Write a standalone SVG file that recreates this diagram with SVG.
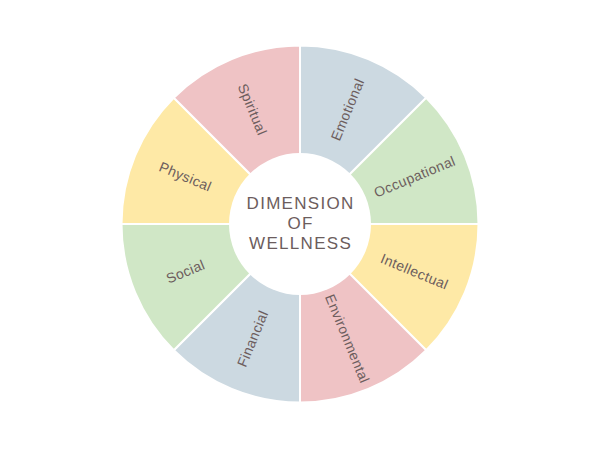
<svg xmlns="http://www.w3.org/2000/svg" width="600" height="449" viewBox="0 0 600 449">
<style>
.seg{stroke:#ffffff;stroke-width:2;stroke-linejoin:round}
.blue{fill:#ccd9e1}.green{fill:#d0e7c6}.yellow{fill:#fee9a6}.pink{fill:#efc3c5}
.lbl{font-family:"Liberation Sans",Arial,sans-serif;font-size:14px;fill:#6c5d5d;text-anchor:middle;dominant-baseline:central;letter-spacing:0.4px}
.ctr{font-family:"Liberation Sans",Arial,sans-serif;font-size:17px;fill:#6c5d5d;text-anchor:middle;letter-spacing:1.3px}
</style>
<rect width="600" height="449" fill="#ffffff"/>
<g id="emotional"><path class="seg blue" d="M300,224 L300,45.5 A178.5,178.5 0 0 1 426.22,97.78 Z"/><text class="lbl" transform="translate(347.45,109.44) rotate(-67.5)">Emotional</text></g>
<g id="occupational"><path class="seg green" d="M300,224 L426.22,97.78 A178.5,178.5 0 0 1 478.5,224 Z"/><text class="lbl" transform="translate(414.56,176.55) rotate(-22.5)">Occupational</text></g>
<g id="intellectual"><path class="seg yellow" d="M300,224 L478.5,224 A178.5,178.5 0 0 1 426.22,350.22 Z"/><text class="lbl" transform="translate(414.56,271.45) rotate(22.5)">Intellectual</text></g>
<g id="environmental"><path class="seg pink" d="M300,224 L426.22,350.22 A178.5,178.5 0 0 1 300,402.5 Z"/><text class="lbl" transform="translate(347.45,338.56) rotate(67.5)">Environmental</text></g>
<g id="financial"><path class="seg blue" d="M300,224 L300,402.5 A178.5,178.5 0 0 1 173.78,350.22 Z"/><text class="lbl" transform="translate(252.55,338.56) rotate(-67.5)">Financial</text></g>
<g id="social"><path class="seg green" d="M300,224 L173.78,350.22 A178.5,178.5 0 0 1 121.5,224 Z"/><text class="lbl" transform="translate(185.44,271.45) rotate(-22.5)">Social</text></g>
<g id="physical"><path class="seg yellow" d="M300,224 L121.5,224 A178.5,178.5 0 0 1 173.78,97.78 Z"/><text class="lbl" transform="translate(185.44,176.55) rotate(22.5)">Physical</text></g>
<g id="spiritual"><path class="seg pink" d="M300,224 L173.78,97.78 A178.5,178.5 0 0 1 300,45.5 Z"/><text class="lbl" transform="translate(252.55,109.44) rotate(67.5)">Spiritual</text></g>
<g id="center"><circle cx="300" cy="224" r="71" fill="#ffffff"/>
<text class="ctr" x="300.6" y="209.3">DIMENSION</text>
<text class="ctr" x="300.6" y="229.3">OF</text>
<text class="ctr" x="300.6" y="249.3">WELLNESS</text></g>
<g id="connectors"/>
</svg>
